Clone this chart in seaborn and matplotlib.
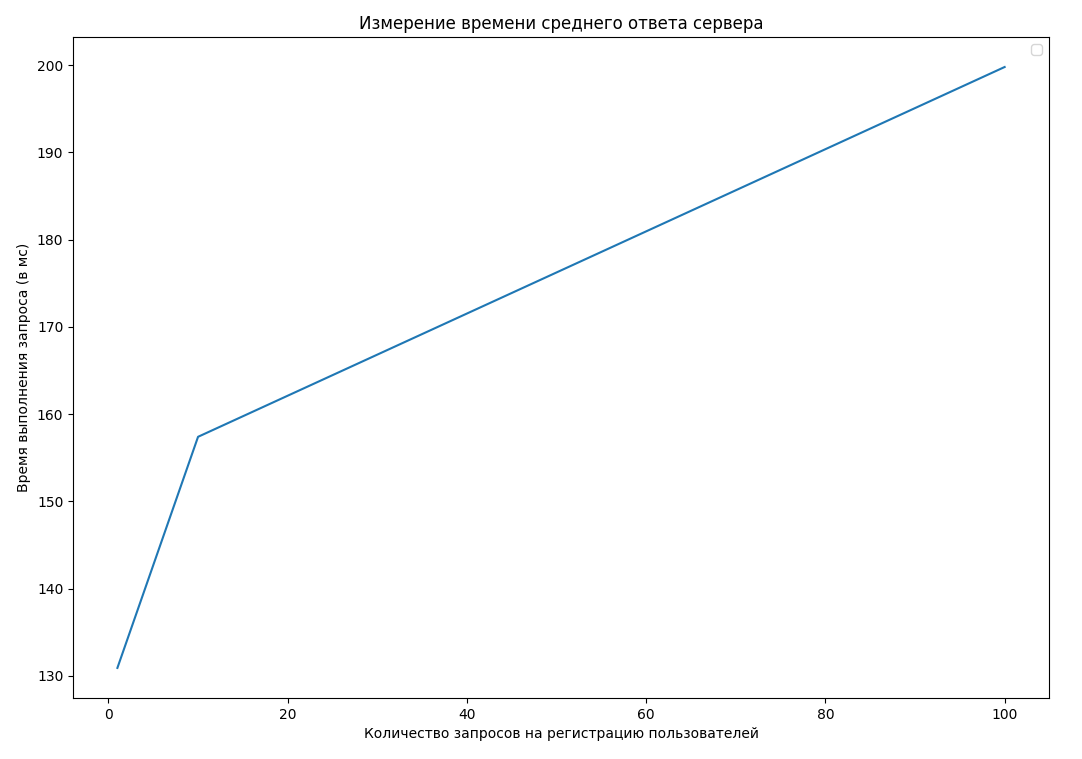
import numpy as np
import pandas as pd
import matplotlib
matplotlib.use("Agg")
import matplotlib.pyplot as plt
import seaborn as sns

requests = [1, 10, 100]
avg_time = [130.9, 157.4, 199.8]

df = pd.DataFrame({"requests": requests, "time": avg_time})

fig, ax = plt.subplots(figsize=(10.82, 7.59), dpi=100)
sns.lineplot(data=df, x="requests", y="time", ax=ax, color="#1f77b4")
ax.set_title("Измерение времени среднего ответа сервера")
ax.set_xlabel("Количество запросов на регистрацию пользователей")
ax.set_ylabel("Время выполнения запроса (в мс)")
ax.legend(handles=[], loc="upper right")
fig.subplots_adjust(left=0.0675, right=0.9695, top=0.9513, bottom=0.0804)
plt.savefig("out.png", dpi=100)
plt.close()
